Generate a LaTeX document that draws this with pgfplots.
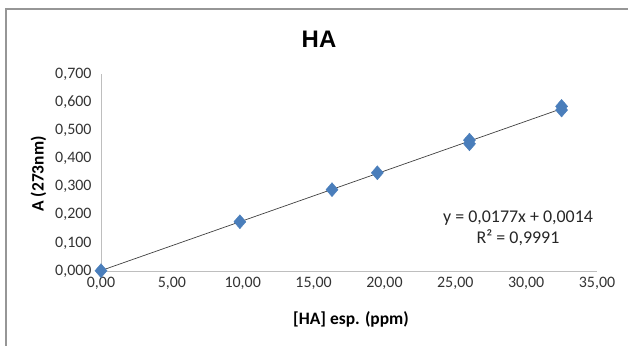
\documentclass[border=0pt]{standalone}
\usepackage{fontspec}
\setmainfont{Carlito}
\newfontfamily\arialfont{Liberation Sans}
\usepackage{pgfplots}
\pgfplotsset{compat=1.18}
\definecolor{mk}{RGB}{74,126,187}
\definecolor{bd}{RGB}{150,150,150}
\definecolor{ax}{RGB}{190,190,190}
\begin{document}
\begin{tikzpicture}[x=1bp,y=1bp]
\path[use as bounding box] (0,0) rectangle (628,345);
\draw[bd, line width=1.2bp] (6,-2) -- (6,336) -- (630,336);
\begin{axis}[
  at={(101bp,74bp)}, anchor=south west,
  scale only axis, width=496bp, height=197bp,
  xmin=0, xmax=35, ymin=0, ymax=0.7,
  xtick={0,5,10,15,20,25,30,35},
  ytick={0,0.1,0.2,0.3,0.4,0.5,0.6,0.7},
  axis x line*=bottom, axis y line*=left,
  axis line style={draw=ax, line width=0.8bp},
  major tick length=0pt,
  tick label style={font=\fontsize{16}{18}\selectfont, text=black!80},
  /pgf/number format/assume math mode=true,
  xticklabel={\pgfmathprintnumber[use comma,fixed,fixed zerofill,precision=2]{\tick}},
  yticklabel={\pgfmathprintnumber[use comma,fixed,fixed zerofill,precision=3]{\tick}},
  xticklabel style={yshift=-3bp},
  yticklabel style={xshift=-6bp},
  clip=false,
]
\addplot[only marks, mark=diamond*, mark size=7bp, mark options={fill=mk, draw=mk, xscale=1.15}] table {
x y
0 0.001
9.8 0.175
16.3 0.289
19.5 0.349
26.0 0.452
26.0 0.465
32.5 0.572
32.5 0.585
};
\addplot[black!75, line width=0.7bp] table {
x y
0 0.0014
32.5 0.5767
};
\end{axis}
\node[font=\arialfont\bfseries\fontsize{24}{28}\selectfont] at (319,306) {HA};
\node[font=\bfseries\fontsize{17.5}{20}\selectfont, rotate=90] at (38.5,171) {A (273nm)};
\node[font=\bfseries\fontsize{17.5}{20}\selectfont] at (351,26) {[HA] esp. (ppm)};
\node[font=\fontsize{18}{21}\selectfont, align=center, text=black!85] at (518,117) {y = 0,0177x + 0,0014\\R² = 0,9991};
\end{tikzpicture}
\end{document}
